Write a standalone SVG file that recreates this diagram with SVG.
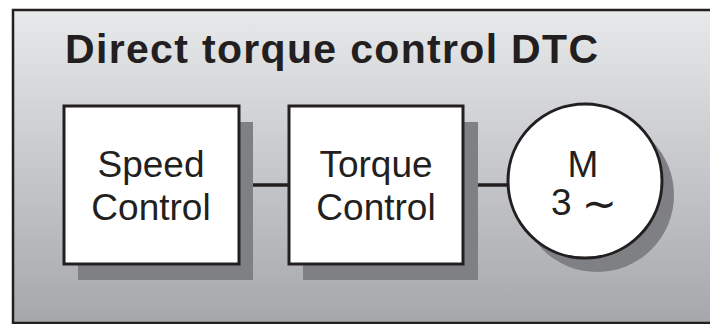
<svg xmlns="http://www.w3.org/2000/svg" width="710" height="324" viewBox="0 0 710 324">
<defs>
<linearGradient id="bg" x1="0" y1="0" x2="0" y2="1">
<stop offset="0" stop-color="#e8e9eb"/>
<stop offset="1" stop-color="#a6a7ab"/>
</linearGradient>
<style>
.box{fill:#ffffff;stroke:#231f20;stroke-width:3}
.shadow{fill:#7f8084}
.lbl{font-family:"Liberation Sans",Arial,sans-serif;font-size:37px;fill:#231f20;text-anchor:middle}
.title{font-family:"Liberation Sans",Arial,sans-serif;font-size:41px;font-weight:bold;fill:#231f20}
.conn{stroke:#231f20;stroke-width:3.5;fill:none}
.tilde{font-family:"DejaVu Sans",sans-serif;font-size:42px}
</style>
</defs>
<rect width="710" height="324" fill="#ffffff"/>
<rect id="frame" x="13" y="10" width="720" height="313" fill="url(#bg)" stroke="#231f20" stroke-width="2.5"/>
<text class="title" x="65" y="63" textLength="533" lengthAdjust="spacing">Direct torque control DTC</text>
<g id="connectors">
<line class="conn" x1="239" y1="185" x2="289" y2="185"/>
<line class="conn" x1="463" y1="185" x2="510" y2="185"/>
</g>
<g id="speed">
<rect class="shadow" x="78" y="122" width="175" height="158"/>
<rect class="box" x="64" y="106" width="175" height="158"/>
<text class="lbl" x="151" y="177">Speed</text>
<text class="lbl" x="151" y="220">Control</text>
</g>
<g id="torque">
<rect class="shadow" x="303" y="122" width="175" height="158"/>
<rect class="box" x="289" y="106" width="174" height="158"/>
<text class="lbl" x="376" y="177">Torque</text>
<text class="lbl" x="376" y="220">Control</text>
</g>
<g id="motor">
<circle class="shadow" cx="597" cy="195" r="77"/>
<circle class="box" cx="585" cy="181" r="77"/>
<text class="lbl" x="583" y="177">M</text>
<text class="lbl" x="584" y="215">3 <tspan class="tilde" dy="3">∼</tspan></text>
</g>
</svg>
